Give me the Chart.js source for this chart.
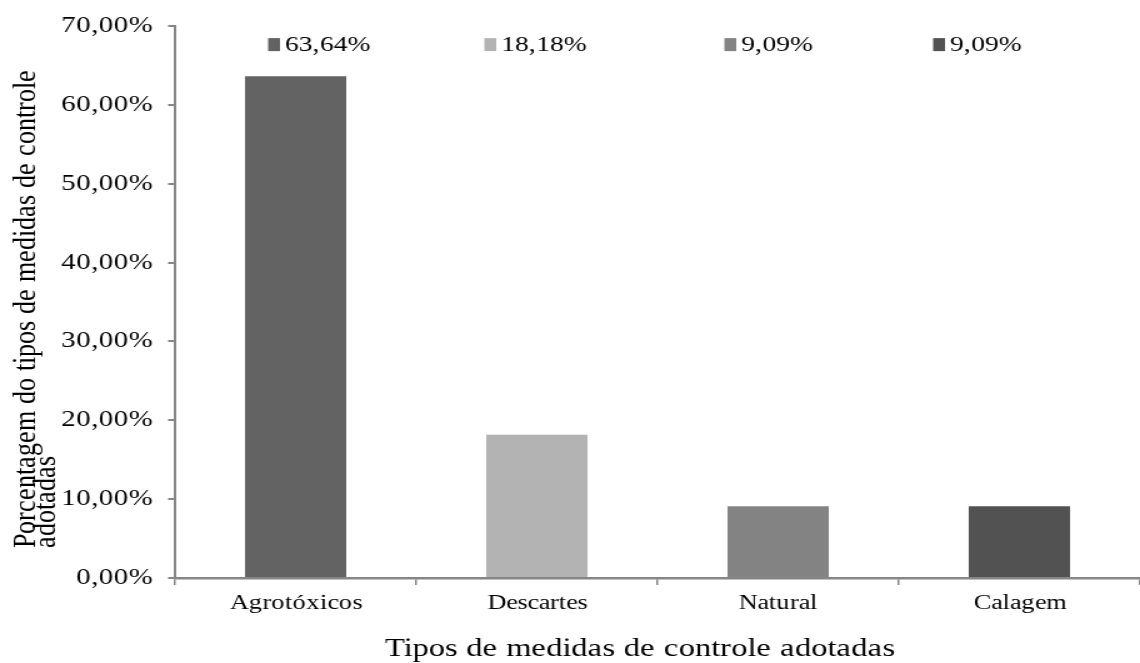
<!DOCTYPE html>
<html>
<head>
<meta charset="utf-8">
<script src="https://cdn.jsdelivr.net/npm/chart.js@4.4.1/dist/chart.umd.min.js"></script>
<style>
  @font-face { font-family: "ChartSerif"; src: local("Liberation Serif"), local("LiberationSerif"), local("Liberation Serif Regular"), local("LiberationSerif-Regular"); }
  html, body { margin: 0; padding: 0; background: #fff; overflow: hidden; }
</style>
</head>
<body>
<canvas id="chart"></canvas>
<script>
// Control measures adopted, share of respondents per type
const categories = ["Agrotóxicos", "Descartes", "Natural", "Calagem"];
const percentages = [63.64, 18.18, 9.09, 9.09];
const barColors = ["#636363", "#b3b3b3", "#838383", "#525252"];
const yTickValues = [0, 10, 20, 30, 40, 50, 60, 70];

const xTitle = "Tipos de medidas de controle adotadas";
const yTitleLines = ["Porcentagem do tipos de medidas de controle", "adotadas"];

// The figure is drawn narrower and then widened to 1140px,
// so every horizontal measure below is in the narrow units.
const STRETCH = 1.25;
const FONT = "ChartSerif, 'Liberation Serif', 'Times New Roman', serif";
const AXIS_GREY = "#868686";

// value tags sit in one row above the plot, nudged off the bar centres
const LABEL_NUDGE = [-22, -42, -43, -69];

function pct(v) {
  return v.toFixed(2).replace(".", ",") + "%";
}

const valueTags = {
  id: "valueTags",
  afterDatasetsDraw(chart) {
    const { ctx, chartArea } = chart;
    const bars = chart.getDatasetMeta(0).data;
    const y = chartArea.top + 19;
    ctx.save();
    ctx.font = "22px " + FONT;
    ctx.textBaseline = "middle";
    ctx.textAlign = "left";
    bars.forEach((bar, i) => {
      const x0 = bar.x + LABEL_NUDGE[i];
      ctx.fillStyle = barColors[i];
      ctx.fillRect(x0, y - 7, 9.5, 13);
      ctx.fillStyle = "#000";
      ctx.fillText(pct(percentages[i]), x0 + 13.5, y);
    });
    ctx.restore();
  }
};

const axisTitles = {
  id: "axisTitles",
  afterDraw(chart) {
    const { ctx, chartArea } = chart;
    ctx.save();
    ctx.fillStyle = "#000";
    ctx.font = "26.4px " + FONT;

    // x title under the category names
    ctx.textAlign = "center";
    ctx.textBaseline = "alphabetic";
    ctx.fillText(xTitle, chartArea.left + 372, chartArea.bottom + 78);

    // y title: two rotated lines, both starting from the same bottom point
    ctx.translate(0, chartArea.bottom - 30);
    ctx.rotate(-Math.PI / 2);
    ctx.textAlign = "left";
    ctx.fillText(yTitleLines[0], 0, 28);
    ctx.fillText(yTitleLines[1], 0, 44);
    ctx.restore();
  }
};

function drawChart() {
  const canvas = document.getElementById("chart");
  canvas.setAttribute("width", Math.round(1140 / STRETCH));
  canvas.setAttribute("height", 663);
  canvas.style.width = "1140px";
  canvas.style.height = "663px";

  new Chart(canvas, {
    type: "bar",
    data: {
      labels: categories,
      datasets: [
        {
          data: percentages,
          backgroundColor: barColors,
          borderWidth: 0,
          categoryPercentage: 1,
          barPercentage: 0.42,
        },
      ],
    },
    options: {
      responsive: false,
      animation: false,
      devicePixelRatio: 1,
      layout: { padding: { top: 26, right: -8, left: 0, bottom: 0 } },
      plugins: {
        legend: { display: false },
        tooltip: { enabled: false },
      },
      scales: {
        x: {
          offset: true,
          afterFit: (scale) => { scale.height = 85; },
          grid: {
            offset: true,
            drawOnChartArea: false,
            color: AXIS_GREY,
            lineWidth: 1.5,
            tickLength: 7,
          },
          border: { color: AXIS_GREY, width: 2.5 },
          ticks: {
            color: "#000",
            padding: 6,
            font: { family: FONT, size: 21 },
          },
        },
        y: {
          min: 0,
          max: 70,
          afterFit: (scale) => { scale.width = 140; },
          afterBuildTicks: (scale) => {
            scale.ticks = yTickValues.map((v) => ({ value: v }));
          },
          grid: {
            drawOnChartArea: false,
            color: AXIS_GREY,
            lineWidth: 2,
            tickLength: 5.5,
          },
          border: { color: AXIS_GREY, width: 2 },
          ticks: {
            color: "#000",
            padding: 12.5,
            font: { family: FONT, size: 22.7 },
            callback: (v) => pct(v),
          },
        },
      },
    },
    plugins: [valueTags, axisTitles],
  });
}

document.fonts.load("22px ChartSerif").then(drawChart, drawChart);
</script>
</body>
</html>
